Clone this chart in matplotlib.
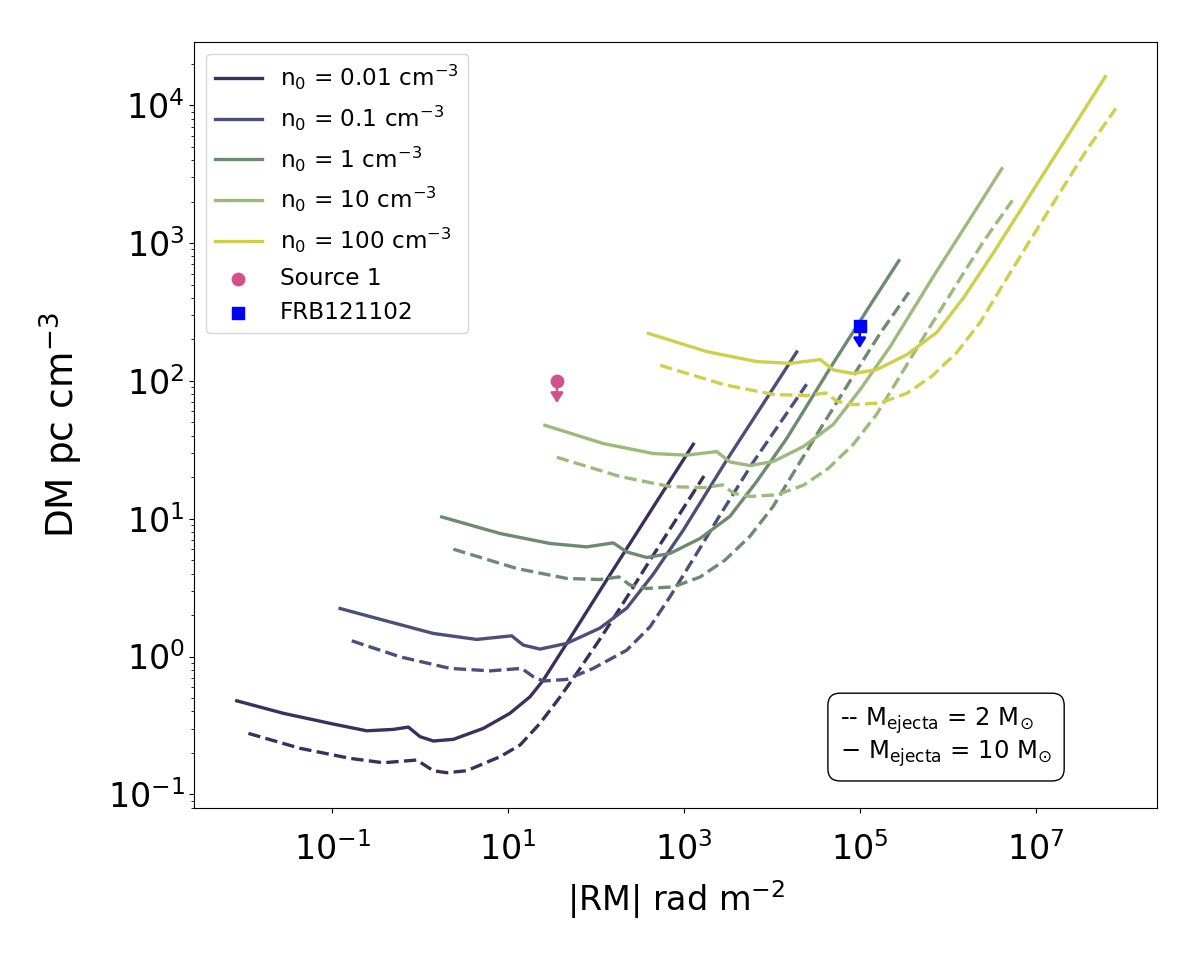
import matplotlib
matplotlib.use("Agg")
import matplotlib.pyplot as plt

# ---------------- data ----------------
labels = ["n$_0$ = 0.01 cm$^{-3}$", "n$_0$ = 0.1 cm$^{-3}$", "n$_0$ = 1 cm$^{-3}$",
          "n$_0$ = 10 cm$^{-3}$", "n$_0$ = 100 cm$^{-3}$"]
colors = ["#3b2f5b", "#4a5079", "#6c8b70", "#9cba7c", "#d0cf4c"]
x_ticks = [1e-1, 1e1, 1e3, 1e5, 1e7]

# M_ejecta = 10 Msun (solid)
rm_10_n001 = [0.00822, 0.0279, 0.103, 0.247, 0.497, 0.735, 1.0, 1.415, 2.39, 5.24, 10.5, 17.8, 25.2, 46.5, 132, 1280]
dm_10_n001 = [0.477, 0.387, 0.3236, 0.289, 0.296, 0.3076, 0.262, 0.2437, 0.2506, 0.301, 0.387, 0.5105, 0.6745, 1.245, 3.58, 34.7]
rm_10_n01 = [0.123, 0.382, 1.415, 4.41, 11.0, 14.9, 23.1, 46.5, 111, 224, 449, 985, 3070, 19200]
dm_10_n01 = [2.23, 1.836, 1.47, 1.33, 1.413, 1.21, 1.132, 1.245, 1.607, 2.244, 3.96, 8.26, 26.6, 162]
rm_10_n1 = [1.76, 8.11, 30.0, 78.5, 157.5, 224, 378, 695, 1524, 3343, 6780, 14860, 45800, 142500, 279000]
dm_10_n1 = [10.3, 7.81, 6.61, 6.245, 6.675, 5.74, 5.23, 5.59, 7.18, 10.4, 18.7, 38.4, 123, 384, 745]
rm_10_n10 = [26.3, 121, 449, 1076, 2360, 3343, 5645, 10440, 22900, 50200, 101800, 223000, 689000, 2.14e6, 4.14e6]
dm_10_n10 = [47.6, 35.1, 29.7, 28.9, 30.7, 25.8, 24.3, 26.0, 33.4, 48.4, 86.9, 178, 573, 1785, 3470]
rm_10_n100 = [396, 1821, 6745, 16170, 35480, 50200, 84800, 157000, 344000, 755000, 1.53e6, 3.36e6, 1.035e7, 3.21e7, 6.22e7]
dm_10_n100 = [221, 163, 138, 134, 142.7, 120, 113, 120.8, 155, 225, 404, 860, 2665, 8295, 16120]

# M_ejecta = 2 Msun (dashed)
rm_2_n001 = [0.01115, 0.0432, 0.16, 0.382, 0.916, 1.415, 2.01, 3.39, 8.11, 13.7, 23.1, 39.0, 60.4, 111, 188, 412, 1694]
dm_2_n001 = [0.2768, 0.2157, 0.1824, 0.1695, 0.1774, 0.1483, 0.1435, 0.1483, 0.1874, 0.2277, 0.3273, 0.508, 0.754, 1.337, 2.244, 5.00, 20.4]
rm_2_n01 = [0.167, 0.591, 2.19, 6.24, 14.3, 19.4, 25.2, 46.5, 93.3, 224, 412, 695, 1524, 2572, 6150, 24900]
dm_2_n01 = [1.30, 0.995, 0.820, 0.787, 0.820, 0.713, 0.664, 0.682, 0.820, 1.112, 1.642, 2.71, 6.11, 10.6, 25.7, 94.5]
rm_2_n1 = [2.39, 12.6, 46.5, 111, 183, 244, 378, 758, 1524, 2933, 5645, 10380, 20900, 37200, 88200, 170000, 362000]
dm_2_n1 = [6.01, 4.35, 3.685, 3.62, 3.78, 3.30, 3.12, 3.20, 3.77, 5.00, 7.46, 12.3, 25.7, 46.9, 113.6, 220, 439]
rm_2_n10 = [35.9, 189, 698, 1671, 2748, 3664, 5674, 11380, 22900, 44060, 84800, 156000, 314000, 558000, 1.325e6, 2.55e6, 5.45e6]
dm_2_n10 = [27.9, 20.2, 17.1, 16.8, 17.6, 15.3, 14.5, 14.9, 17.5, 23.2, 34.7, 57.3, 119, 218, 527, 1023, 2040]
rm_2_n100 = [539, 2835, 10500, 25100, 41300, 55080, 85300, 171000, 344000, 662000, 1.274e6, 2.345e6, 4.72e6, 8.39e6, 1.99e7, 3.83e7, 8.19e7]
dm_2_n100 = [129.8, 94.0, 79.6, 78.2, 81.7, 71.1, 67.3, 69.1, 81.3, 108, 161, 266, 555, 1012, 2450, 4755, 9480]

# observed sources (upper limits on DM)
src1_rm, src1_dm = 36, 100
frb_rm, frb_dm = 1.0e5, 250

solid_rm = [rm_10_n001, rm_10_n01, rm_10_n1, rm_10_n10, rm_10_n100]
solid_dm = [dm_10_n001, dm_10_n01, dm_10_n1, dm_10_n10, dm_10_n100]
dash_rm = [rm_2_n001, rm_2_n01, rm_2_n1, rm_2_n10, rm_2_n100]
dash_dm = [dm_2_n001, dm_2_n01, dm_2_n1, dm_2_n10, dm_2_n100]

# ---------------- figure ----------------
fig = plt.figure(figsize=(12, 9.6), dpi=100)
ax = fig.add_axes([0.162, 0.158, 0.802, 0.798])

LW = 2.4
for i in range(5):
    ax.plot(solid_rm[i], solid_dm[i], color=colors[i], lw=LW, label=labels[i])
    ax.plot(dash_rm[i], dash_dm[i], color=colors[i], lw=LW, ls="--")

pink = "#d5508a"
ax.scatter([src1_rm], [src1_dm], s=80, color=pink, marker="o", label="Source 1", zorder=4)
ax.scatter([frb_rm], [frb_dm], s=80, color="blue", marker="s", label="FRB121102", zorder=4)

LIMFRAC = 0.69
for (xx, yy, cc) in [(src1_rm, src1_dm, pink), (frb_rm, frb_dm, "blue")]:
    ax.annotate("", xy=(xx, yy * LIMFRAC), xytext=(xx, yy),
                arrowprops=dict(arrowstyle="-|>,head_length=0.4,head_width=0.25",
                                color=cc, lw=1.8, shrinkA=0, shrinkB=0,
                                mutation_scale=15), zorder=4)

ax.set_xscale("log")
ax.set_yscale("log")
ax.set_xticks(x_ticks)
ax.set_xlim(10 ** -2.567, 10 ** 8.379)
ax.set_ylim(10 ** -1.1015, 10 ** 4.457)

ax.tick_params(labelsize=24)
ax.tick_params(axis="x", pad=14)
ax.set_xlabel("|RM| rad m$^{-2}$", fontsize=24, labelpad=8)
ax.set_ylabel("DM pc cm$^{-3}$", fontsize=27, labelpad=16)

ax.legend(loc="upper left", fontsize=16.7)

ax.text(0.781, 0.093,
        "-- M$_{\\rm ejecta}$ = 2 M$_{\\odot}$\n\u2212 M$_{\\rm ejecta}$ = 10 M$_{\\odot}$",
        transform=ax.transAxes, ha="center", va="center", multialignment="left",
        fontsize=17.5, linespacing=1.1,
        bbox=dict(boxstyle="round,pad=0.5", facecolor="white", edgecolor="black"))

fig.savefig("out.png", dpi=100)
